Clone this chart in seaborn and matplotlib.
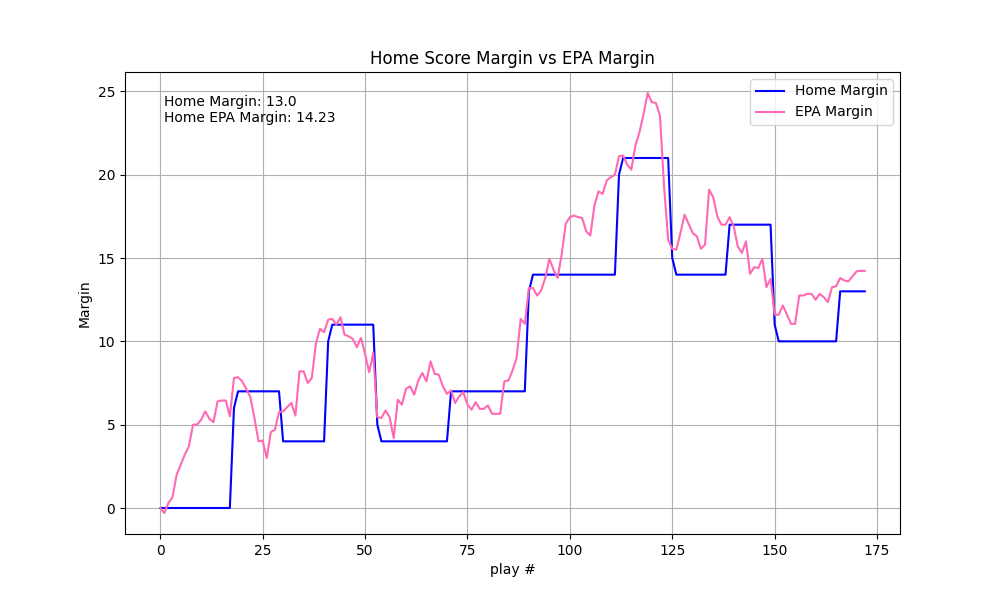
import numpy as np
import pandas as pd
import matplotlib
matplotlib.use("Agg")
import matplotlib.pyplot as plt
import seaborn as sns

# ---------------------------------------------------------------
# Datos (una entrada por jugada, 0..172)
# ---------------------------------------------------------------
home_margin = [
    0, 0, 0, 0, 0, 0, 0, 0, 0, 0, 0, 0, 0, 0, 0, 0, 0, 0,
    6,
    7, 7, 7, 7, 7, 7, 7, 7, 7, 7, 7,
    4, 4, 4, 4, 4, 4, 4, 4, 4, 4, 4,
    10,
    11, 11, 11, 11, 11, 11, 11, 11, 11, 11, 11,
    5,
    4, 4, 4, 4, 4, 4, 4, 4, 4, 4, 4, 4, 4, 4, 4, 4, 4,
    7, 7, 7, 7, 7, 7, 7, 7, 7, 7, 7, 7, 7, 7, 7, 7, 7, 7, 7,
    13,
    14, 14, 14, 14, 14, 14, 14, 14, 14, 14, 14, 14, 14, 14, 14, 14, 14, 14, 14, 14, 14,
    20,
    21, 21, 21, 21, 21, 21, 21, 21, 21, 21, 21, 21,
    15,
    14, 14, 14, 14, 14, 14, 14, 14, 14, 14, 14, 14, 14,
    17, 17, 17, 17, 17, 17, 17, 17, 17, 17, 17,
    11,
    10, 10, 10, 10, 10, 10, 10, 10, 10, 10, 10, 10, 10, 10, 10,
    13, 13, 13, 13, 13, 13, 13,
]

epa_margin = [
    0.0, -0.3, 0.3, 0.65, 2.0, 2.6, 3.2, 3.7, 5.0, 5.0,
    5.3, 5.8, 5.35, 5.15, 6.4, 6.45, 6.45, 5.5, 7.8, 7.85,
    7.6, 7.15, 6.65, 5.4, 4.0, 4.05, 3.0, 4.55, 4.7, 5.75,
    5.8, 6.05, 6.3, 5.55, 8.2, 8.2, 7.5, 7.8, 9.85, 10.75,
    10.55, 11.3, 11.35, 11.0, 11.45, 10.4, 10.3, 10.15, 9.65, 10.2,
    9.25, 8.15, 9.3, 5.45, 5.4, 5.85, 5.45, 4.2, 6.5, 6.2,
    7.15, 7.3, 6.8, 7.65, 8.1, 7.6, 8.8, 8.05, 8.0, 7.3,
    6.85, 7.05, 6.3, 6.7, 6.95, 6.2, 5.9, 6.35, 5.95, 5.95,
    6.15, 5.65, 5.65, 5.65, 7.6, 7.65, 8.25, 9.0, 11.35, 11.05,
    13.2, 13.2, 12.75, 13.05, 13.8, 14.95, 14.3, 13.8, 15.2, 17.05,
    17.45, 17.55, 17.45, 17.4, 16.6, 16.35, 18.15, 19.0, 18.85, 19.65,
    19.85, 20.0, 21.1, 21.15, 20.6, 20.3, 21.75, 22.55, 23.65, 24.9,
    24.35, 24.3, 23.55, 19.3, 16.1, 15.55, 15.5, 16.5, 17.6, 17.05,
    16.5, 16.3, 15.55, 15.8, 19.1, 18.65, 17.5, 17.0, 17.0, 17.45,
    16.9, 15.7, 15.3, 16.0, 14.05, 14.45, 14.4, 14.95, 13.25, 13.75,
    11.6, 11.6, 12.15, 11.6, 11.05, 11.05, 12.75, 12.75, 12.85, 12.85,
    12.5, 12.85, 12.65, 12.35, 13.25, 13.3, 13.8, 13.65, 13.6, 13.9,
    14.2, 14.23, 14.23,
]

plays = np.arange(len(epa_margin))

df = pd.DataFrame({
    'play': plays,
    'home_margin': home_margin,
    'epa_margin': epa_margin,
})

# ---------------------------------------------------------------
# Grafico
# ---------------------------------------------------------------
fig, ax = plt.subplots(figsize=(10, 6), dpi=100)

sns.lineplot(data=df, x='play', y='home_margin', color='blue', label='Home Margin', ax=ax)
sns.lineplot(data=df, x='play', y='epa_margin', color='hotpink', label='EPA Margin', ax=ax)

ax.set_title('Home Score Margin vs EPA Margin')
ax.set_xlabel('play #')
ax.set_ylabel('Margin')
ax.grid(True)
ax.legend(loc='upper right')

ax.text(0.05, 0.95,
        f"Home Margin: {float(home_margin[-1])}\nHome EPA Margin: {epa_margin[-1]}",
        transform=ax.transAxes, verticalalignment='top')

plt.savefig('out.png', dpi=100)
